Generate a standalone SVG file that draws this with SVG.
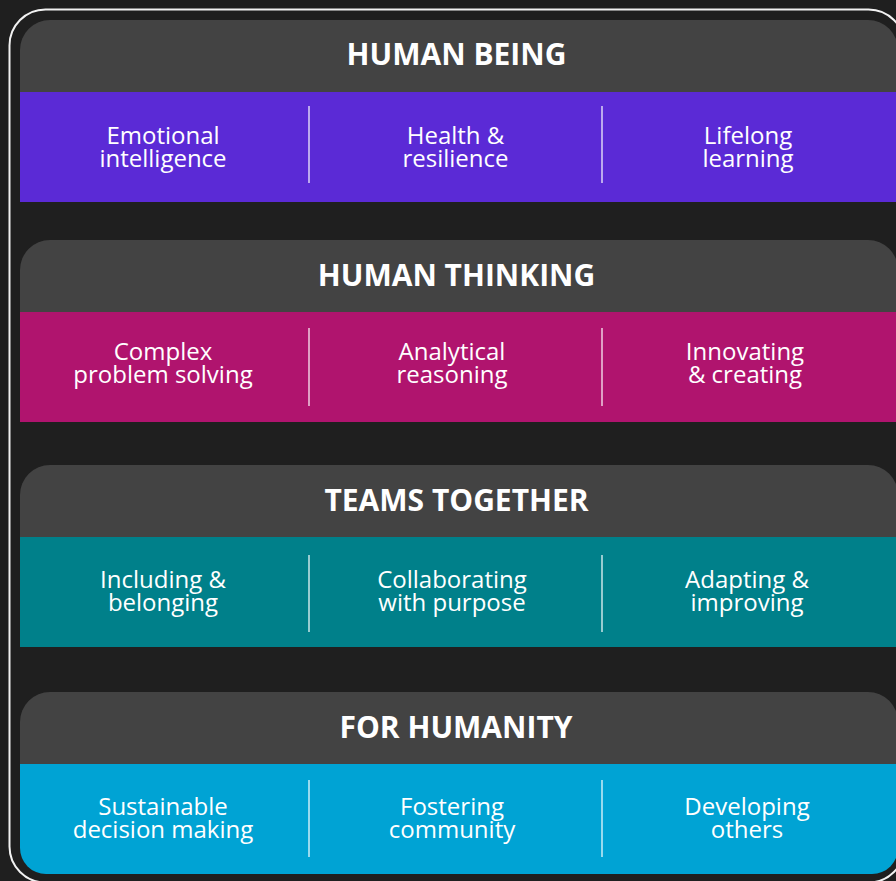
<svg xmlns="http://www.w3.org/2000/svg" width="896" height="881" viewBox="0 0 896 881">
<style>
.hdr{fill:#434343}
.ht{font-family:"Open Sans","Liberation Sans",sans-serif;font-weight:700;font-size:30px;fill:#ffffff;text-anchor:middle}
.bt{font-family:"Open Sans","Liberation Sans",sans-serif;font-size:24px;fill:#ffffff;text-anchor:middle}
.div{stroke:#ffffff;stroke-opacity:0.75;stroke-width:1.6}
</style>
<rect x="0" y="0" width="896" height="881" fill="#1f1f1f"/>
<rect x="9.5" y="9.5" width="895" height="873" rx="36" ry="36" fill="none" stroke="#f2f2f2" stroke-width="2"/>

<g id="human-being">
<path class="hdr" d="M20 92 V50 A30 30 0 0 1 50 20 H868 A30 30 0 0 1 898 50 V92 Z"/>
<text class="ht" x="456.5" y="65">HUMAN BEING</text>
<rect x="20" y="92" width="878" height="110" fill="#5b2ad6"/>
<line class="div" x1="309" y1="106" x2="309" y2="183"/>
<line class="div" x1="602" y1="106" x2="602" y2="183"/>
<text class="bt" x="163" y="144">Emotional</text>
<text class="bt" x="163" y="167">intelligence</text>
<text class="bt" x="455.5" y="144">Health &amp;</text>
<text class="bt" x="455.5" y="167">resilience</text>
<text class="bt" x="748" y="144">Lifelong</text>
<text class="bt" x="748" y="167">learning</text>
</g>

<g id="human-thinking">
<path class="hdr" d="M20 312 V270 A30 30 0 0 1 50 240 H868 A30 30 0 0 1 898 270 V312 Z"/>
<text class="ht" x="456.5" y="286">HUMAN THINKING</text>
<rect x="20" y="312" width="878" height="110" fill="#b0146e"/>
<line class="div" x1="309" y1="328" x2="309" y2="406"/>
<line class="div" x1="602" y1="328" x2="602" y2="406"/>
<text class="bt" x="163" y="360">Complex</text>
<text class="bt" x="163" y="383">problem solving</text>
<text class="bt" x="452" y="360">Analytical</text>
<text class="bt" x="452" y="383">reasoning</text>
<text class="bt" x="745" y="360">Innovating</text>
<text class="bt" x="745" y="383">&amp; creating</text>
</g>

<g id="teams-together">
<path class="hdr" d="M20 537 V495 A30 30 0 0 1 50 465 H868 A30 30 0 0 1 898 495 V537 Z"/>
<text class="ht" x="456.5" y="511">TEAMS TOGETHER</text>
<rect x="20" y="537" width="878" height="110" fill="#00808a"/>
<line class="div" x1="309" y1="555" x2="309" y2="632"/>
<line class="div" x1="602" y1="555" x2="602" y2="632"/>
<text class="bt" x="163" y="588">Including &amp;</text>
<text class="bt" x="163" y="611">belonging</text>
<text class="bt" x="452" y="588">Collaborating</text>
<text class="bt" x="452" y="611">with purpose</text>
<text class="bt" x="747" y="588">Adapting &amp;</text>
<text class="bt" x="747" y="611">improving</text>
</g>

<g id="for-humanity">
<path class="hdr" d="M20 764 V722 A30 30 0 0 1 50 692 H868 A30 30 0 0 1 898 722 V764 Z"/>
<text class="ht" x="456" y="738">FOR HUMANITY</text>
<path d="M20 764 H898 V848 A26 26 0 0 1 872 874 H46 A26 26 0 0 1 20 848 Z" fill="#00a3d4"/>
<line class="div" x1="309" y1="780" x2="309" y2="857"/>
<line class="div" x1="602" y1="780" x2="602" y2="857"/>
<text class="bt" x="163" y="815">Sustainable</text>
<text class="bt" x="163" y="838">decision making</text>
<text class="bt" x="452" y="815">Fostering</text>
<text class="bt" x="452" y="838">community</text>
<text class="bt" x="747" y="815">Developing</text>
<text class="bt" x="747" y="838">others</text>
</g>

<g id="connectors"></g>
</svg>
